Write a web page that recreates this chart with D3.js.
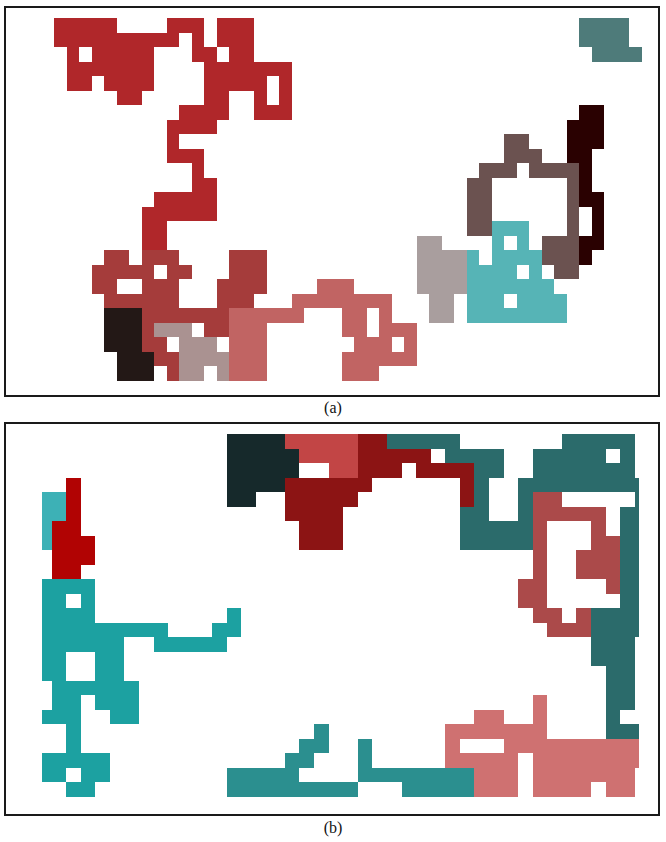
<!DOCTYPE html>
<html><head><meta charset="utf-8">
<script src="https://cdn.jsdelivr.net/npm/d3@7"></script>
<style>body{margin:0;background:#fff}</style>
</head><body><svg id="c" width="666" height="842"></svg>
<script>
// grid dimensions
const colsA = d3.range(47), rowsA = d3.range(25);
const colsB = d3.range(42), rowsB = d3.range(25);
const captions = ["(a)", "(b)"];

// ---- panel (a) regions: "row:colStart-colEnd,..." ----
const aRed = ["0:0-4,9-11,13-15","1:0-9,11,13-15","2:1,3-7,11-12,14-15","3:1-7,12-18","4:1-2,4-7,12-16,18",
  "5:5-6,12-13,16,18","6:10-13,16-18","7:9-12","8:9","9:9-11","10:11","11:11-12","12:8-12","13:7-12","14:7-8","15:7-8"];
const aBrownRed = ["16:4-5,7-9,14-16","17:3-7,9-10,14-16","18:3-4,7-9,13-16","19:4-9,13-15","20:7-13","21:7,12-13","22:7-8","23:8-9","24:9"];
const aBlack = ["20:4-6","21:4-6","22:4-6","23:5-7","24:5-7"];
const aMauve = ["21:8-10","22:10-12","23:10-13","24:10-11,13"];
const aPink = ["18:21-23","19:19-26","20:14-19,23-24,26","21:14-16,23-24,26-28","22:14-16,24-26,28","23:14-16,23-28","24:14-16,23-25"];
const aGray = ["15:29-30","16:29-32","17:29-32","18:29-32","19:30-31","20:30-31"];
const aTeal = ["14:35-37","15:35,37","16:33,35-38","17:33-36,38","18:33-39","19:33-35,37-40","20:33-40"];
const aBrownGray = ["8:36-37","9:36-38","10:34-36,38-41","11:33-34,41","12:33-34,41","13:33-34,41","14:33-34,41","15:39-41","16:39-41","17:40-41"];
const aDark = ["6:42-43","7:41-43","8:41-43","9:41-42","10:42","11:42","12:42-43","13:43","14:43","15:42-43","16:42"];
const aSlate = ["0:42-45","1:42-45","2:43-46"];

// ---- panel (b) regions ----
const bDark = ["0:13-16","1:13-17","2:13-17","3:13-16","4:13-14"];
const bLightRed = ["0:17-21","1:18-21","2:20-21"];
const bDarkRed = ["0:22-23","1:22-26","2:22-24,26-29","3:17-22,29","4:17-21,29","5:17-20","6:18-20","7:18-20"];
const bSlateTeal = ["0:24-28,36-40","1:28-31,34-38,40","2:30-31,34-40","3:30,33-41","4:30,33,41","5:29-30,33,40-41",
  "6:29-33,40-41","7:29-33,40-41","8:40-41","9:40-41","10:40-41","11:40-41","12:38-41","13:38-41","14:38-40","15:38-40",
  "16:39-40","17:39-40","18:39-40","19:39","20:39-41"];
const bRing = ["4:34-35","5:34-38","6:34,38","7:34,38-39","8:34,37-39","9:34,37-39","10:33-34,39","11:33-34","12:34-35,37","13:35-37"];
const bLeftLightTeal = ["4:0-1","5:0-1","6:0","7:0"];
const bLeftRed = ["3:2","4:2","5:2","6:1-2","7:1-3","8:1-3","9:1-2"];
const bLeftTeal = ["10:0-3","11:0-1,3","12:0-3,13","13:0-8,12-13","14:0-5,8-12","15:0-1,4-5","16:0-1,4-5","17:1-6",
  "18:1-2,4-6","19:0-2,5-6","20:2","21:2","22:0-4","23:0-1,3-4","24:2-3"];
const bBottomTeal = ["20:19","21:18-19,22","22:17-18,22","23:13-17,22-29","24:13-21,25-29"];
const bPink = ["18:34","19:30-31,34","20:28-34","21:28,32-41","22:28-32,34-41","23:30-32,34-40","24:30-32,34-37,39-40"];

// styles (kept apart from data)
const panelA = [[aRed,"#b0272a"],[aBrownRed,"#a53c3b"],[aBlack,"#231816"],[aMauve,"#aa9291"],[aPink,"#c16463"],
  [aGray,"#a99e9e"],[aTeal,"#56b4b6"],[aBrownGray,"#6b5250"],[aDark,"#2a0101"],[aSlate,"#4e7b7a"]];
const panelB = [[bDark,"#16292b"],[bLightRed,"#c24545"],[bDarkRed,"#8c1414"],[bSlateTeal,"#2b6b6b"],[bRing,"#ab4a4a"],
  [bLeftLightTeal,"#3db1b6"],[bLeftRed,"#b10303"],[bLeftTeal,"#1ca1a1"],[bBottomTeal,"#2b8f8f"],[bPink,"#cf7171"]];

function cells(rows){
  const out=[];
  rows.forEach(s=>{
    const [r,rest]=s.split(":");
    rest.split(",").forEach(rg=>{
      const [a,b]=rg.split("-").map(Number);
      d3.range(a,(b===undefined?a:b)+1).forEach(c=>out.push({r:+r,c}));
    });
  });
  return out;
}

const svg=d3.select("#c");
const defs=svg.append("defs");
defs.append("clipPath").attr("id","clipB").append("rect").attr("x",42).attr("y",434).attr("width",597).attr("height",363);

const xA=d3.scaleBand().domain(colsA).range([54,641.5]);
const yA=d3.scaleBand().domain(rowsA).range([18,381]);
const xB=d3.scaleBand().domain(colsB).range([37,37+14.58*42]);
const yB=d3.scaleBand().domain(rowsB).range([434,797]);

function draw(g,list,x,y){
  list.forEach(([rows,color])=>{
    g.append("g").selectAll("rect").data(cells(rows)).join("rect")
      .attr("x",d=>Math.round(x(d.c))).attr("y",d=>Math.round(y(d.r)))
      .attr("width",d=>Math.round(x(d.c)+x.bandwidth())-Math.round(x(d.c)))
      .attr("height",d=>Math.round(y(d.r)+y.bandwidth())-Math.round(y(d.r)))
      .attr("shape-rendering","crispEdges")
      .attr("fill",color);
  });
}
draw(svg.append("g"),panelA,xA,yA);
draw(svg.append("g").attr("clip-path","url(#clipB)"),panelB,xB,yB);

// frames
svg.append("rect").attr("x",5).attr("y",7).attr("width",654).attr("height",389)
  .attr("fill","none").attr("stroke","#1a1a1a").attr("stroke-width",2);
svg.append("rect").attr("x",5).attr("y",423).attr("width",654).attr("height",392)
  .attr("fill","none").attr("stroke","#1a1a1a").attr("stroke-width",2);

svg.selectAll("text.cap").data(captions).join("text").attr("class","cap")
  .attr("x",333).attr("y",(d,i)=>i===0?413:833).attr("text-anchor","middle")
  .attr("font-family","'Liberation Serif','Times New Roman',serif").attr("font-size",16).attr("fill","#111")
  .text(d=>d);
</script></body></html>
